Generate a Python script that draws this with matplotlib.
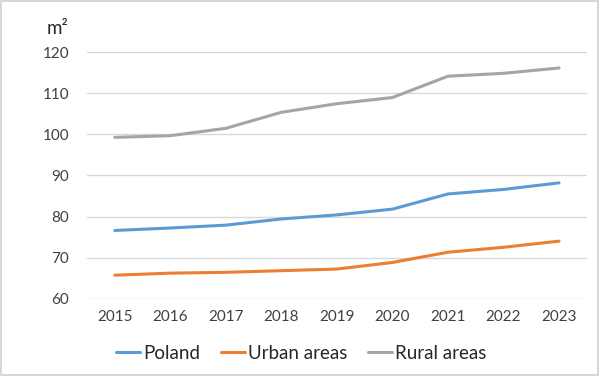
import matplotlib
matplotlib.use("Agg")
import matplotlib.pyplot as plt
from matplotlib.patches import Rectangle

plt.rcParams['font.family'] = ['Lato', 'DejaVu Sans']

years = ['2015', '2016', '2017', '2018', '2019', '2020', '2021', '2022', '2023']
poland = [76.6, 77.2, 77.9, 79.4, 80.4, 81.8, 85.5, 86.6, 88.2]
urban = [65.7, 66.2, 66.4, 66.8, 67.2, 68.8, 71.3, 72.5, 74.0]
rural = [99.3, 99.7, 101.5, 105.4, 107.5, 109.0, 114.2, 114.9, 116.2]

series = [('Poland', poland, '#5B9BD5'),
          ('Urban areas', urban, '#ED7D31'),
          ('Rural areas', rural, '#A5A5A5')]

fig = plt.figure(figsize=(6, 3.77), dpi=100)
ax = fig.add_axes([0.145, 0.208, 0.833, 0.653])

x = range(len(years))
for name, vals, col in series:
    ax.plot(x, vals, color=col, lw=2.2, label=name, solid_capstyle='round')

ax.set_xlim(-0.5, len(years) - 0.5)
ax.set_ylim(60, 120)
ax.set_yticks(range(60, 121, 10))
ax.set_xticks(list(x))
ax.set_xticklabels(years)
ax.grid(axis='y', color='#D9D9D9', lw=1)
ax.set_axisbelow(True)
for s in ax.spines.values():
    s.set_visible(False)
ax.tick_params(length=0, labelsize=11, colors='#404040', pad=8)
ax.tick_params(axis='y', pad=13)

fig.text(0.077, 0.925, 'm²', fontsize=13.5, color='#262626', ha='left', va='center')

fig.legend(loc='center', bbox_to_anchor=(0.502, 0.063), ncol=3, frameon=False,
           fontsize=13.5, handlelength=1.3, handletextpad=0.15, columnspacing=1.1,
           labelcolor='#262626')

fig.patches.append(Rectangle((0.002, 0.004), 0.995, 0.993, transform=fig.transFigure,
                             fill=False, edgecolor='#D0D0D0', lw=1.2))

fig.savefig('out.png', dpi=100)
